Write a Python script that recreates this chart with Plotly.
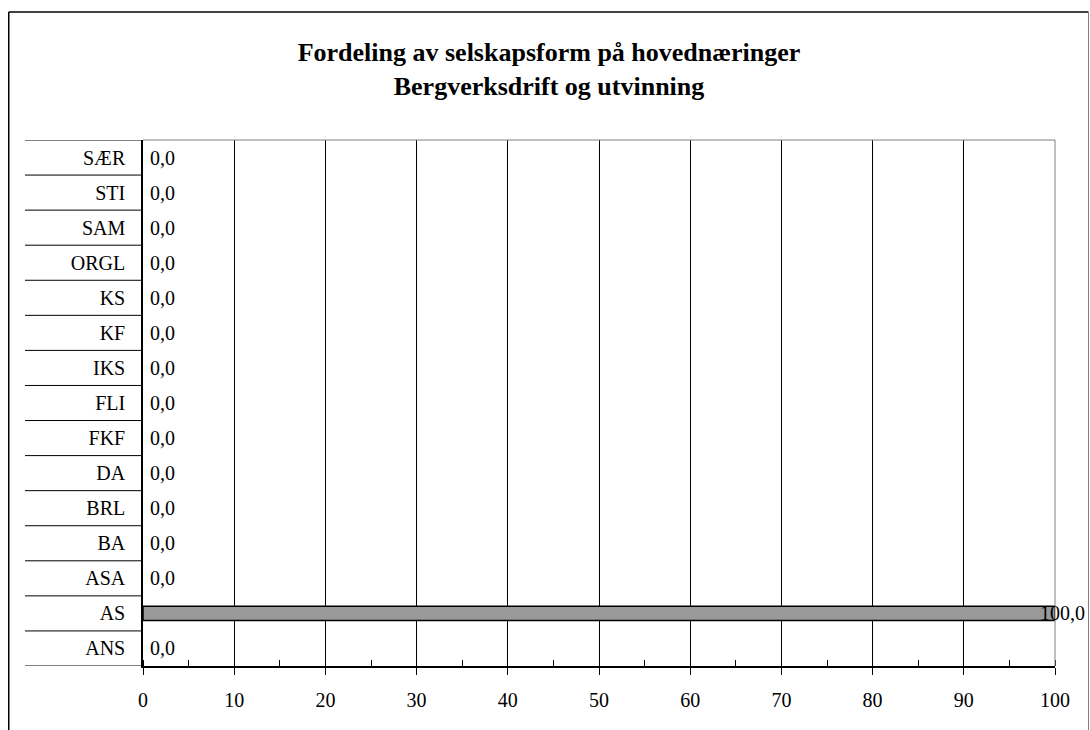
import plotly.graph_objects as go

# Selskapsform (bottom to top as in the chart) and share in per cent
forms = ['ANS', 'AS', 'ASA', 'BA', 'BRL', 'DA', 'FKF', 'FLI', 'IKS', 'KF',
         'KS', 'ORGL', 'SAM', 'STI', 'SÆR']
shares = [0.0, 100.0, 0.0, 0.0, 0.0, 0.0, 0.0, 0.0, 0.0, 0.0,
          0.0, 0.0, 0.0, 0.0, 0.0]
x_ticks = [0, 10, 20, 30, 40, 50, 60, 70, 80, 90, 100]

FONT = 'Liberation Serif, Times New Roman, serif'

W, H = 1090, 730

# paper coords helpers (plot area is 143..1055 px wide, 140..666 px high)
def px_x(px):
    return (px - 143) / 912

def px_y(py):
    return (666 - py) / 526

bar = go.Bar(
    x=shares, y=forms, orientation='h',
    marker=dict(color='#999999',
                line=dict(color='black', width=[1.5 if v > 0 else 0 for v in shares])),
    hoverinfo='x+y',
)

# data labels in Norwegian decimal format
annotations = []
for f, v in zip(forms, shares):
    label = f'{v:.1f}'.replace('.', ',')
    annotations.append(dict(
        x=v, y=f, xref='x', yref='y', text=label, showarrow=False,
        xanchor='left', xshift=5 if v < max(x_ticks) else -17,
        font=dict(family=FONT, size=20, color='black'),
    ))

shapes = []
# separators between category labels
for i in range(len(forms) + 1):
    shapes.append(dict(type='line', xref='paper', yref='y',
                       x0=px_x(25), x1=0, y0=i - 0.5, y1=i - 0.5,
                       line=dict(color='black', width=1)))
# plot area border (top, right) in gray
shapes.append(dict(type='line', xref='paper', yref='paper', x0=0, x1=1, y0=1, y1=1,
                   line=dict(color='#808080', width=1)))
shapes.append(dict(type='line', xref='paper', yref='paper', x0=1, x1=1, y0=0, y1=1,
                   line=dict(color='#808080', width=1)))
# chart frame
shapes.append(dict(type='line', xref='paper', yref='paper',
                   x0=px_x(8.75), x1=px_x(1088.5), y0=px_y(12), y1=px_y(12),
                   line=dict(color='black', width=1.5)))
shapes.append(dict(type='line', xref='paper', yref='paper',
                   x0=px_x(8.75), x1=px_x(8.75), y0=px_y(12), y1=px_y(740),
                   line=dict(color='black', width=1.5)))
shapes.append(dict(type='line', xref='paper', yref='paper',
                   x0=px_x(1088.5), x1=px_x(1088.5), y0=px_y(12), y1=px_y(740),
                   line=dict(color='#808080', width=1)))

layout = go.Layout(
    width=W, height=H,
    margin=dict(l=143, r=W - 1055, t=140, b=H - 666),
    paper_bgcolor='white', plot_bgcolor='white',
    showlegend=False,
    bargap=0.59,
    font=dict(family=FONT, size=20, color='black'),
    title=dict(
        text='Fordeling av selskapsform på hovednæringer<br>Bergverksdrift og utvinning',
        font=dict(family=FONT, size=26, color='black', weight='bold'),
        x=549 / W, xanchor='center', xref='container',
        y=1 - 61 / H, yanchor='top', yref='container',
    ),
    xaxis=dict(
        range=[0, 100], tickvals=x_ticks, showgrid=True, gridcolor='black', gridwidth=1,
        showline=True, linecolor='black', linewidth=1.5,
        ticks='outside', ticklen=7, tickcolor='black', ticklabelstandoff=8,
        minor=dict(dtick=5, ticks='inside', ticklen=6, tickcolor='black', showgrid=False),
        zeroline=False, fixedrange=True,
        tickfont=dict(family=FONT, size=20, color='black'),
    ),
    yaxis=dict(
        range=[-0.5, len(forms) - 0.5], type='category', categoryorder='array',
        categoryarray=forms, showgrid=False,
        showline=True, linecolor='black', linewidth=1.5,
        ticks='outside', ticklen=12, tickcolor='rgba(0,0,0,0)',
        zeroline=False, fixedrange=True,
        tickfont=dict(family=FONT, size=20, color='black'),
    ),
    shapes=shapes,
    annotations=annotations,
)

fig = go.Figure(data=[bar], layout=layout)
# drop the default page margin so the 1090x730 figure fills the window
fig.write_html('out.html',
               config={'displayModeBar': False},
               post_script="document.body.style.margin='0';"
                           "document.body.style.overflow='hidden';")
